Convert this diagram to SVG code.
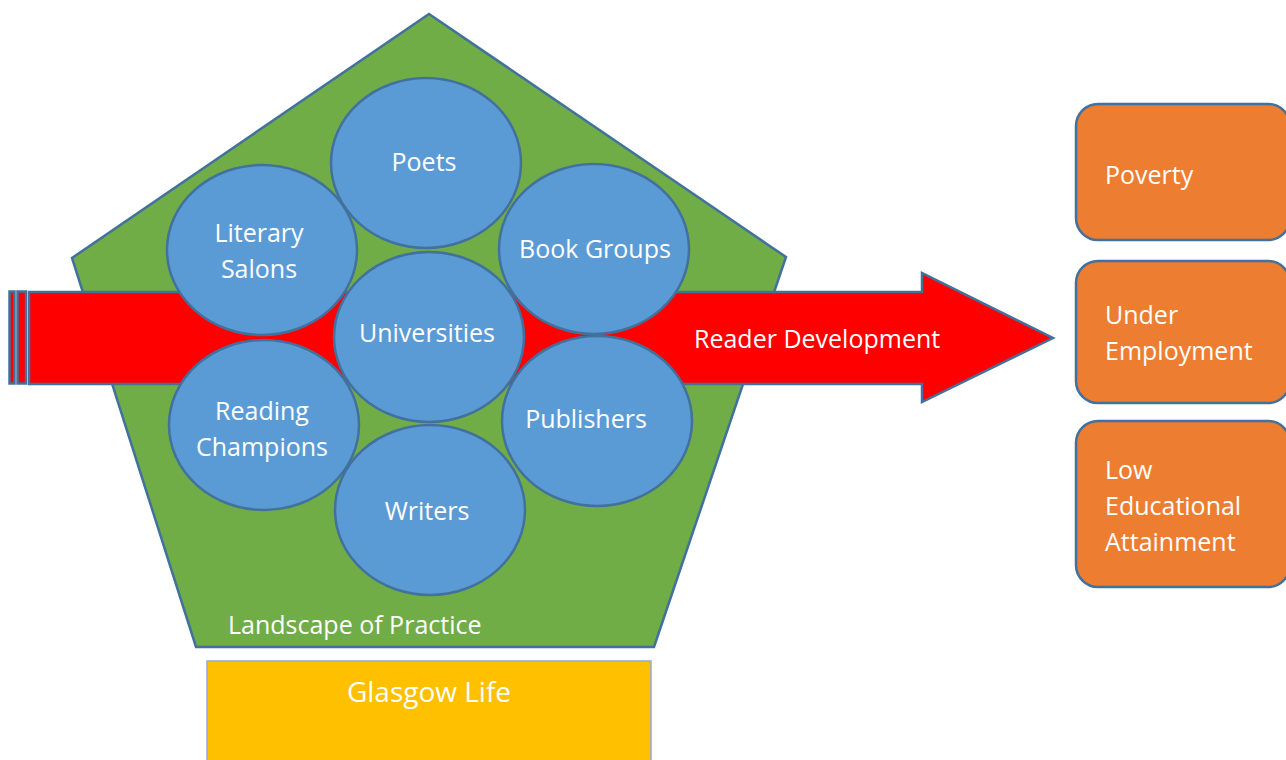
<svg xmlns="http://www.w3.org/2000/svg" width="1286" height="760" viewBox="0 0 1286 760">
<style>
text{font-family:"Open Sans","Liberation Sans",sans-serif;font-size:25px;fill:#fff}
.c{text-anchor:middle}
.circ{fill:#5B9BD5;stroke:#41719C;stroke-width:2.5}
.org{fill:#ED7D31;stroke:#41719C;stroke-width:2.5}
.ar{fill:#FF0000;stroke:#41719C;stroke-width:2.5}
</style>
<rect width="1286" height="760" fill="#fff"/>
<g id="landscape">
<polygon points="429,14 786,257 654,647 196,647 72,258" fill="#70AD47" stroke="#41719C" stroke-width="2.5"/>
<text x="228" y="634">Landscape of Practice</text>
</g>
<g id="glasgow-life">
<rect x="207" y="661" width="444" height="110" fill="#FFC000" stroke="#8FAADC" stroke-width="1.5"/>
<text class="c" x="429" y="702" style="font-size:28px">Glasgow Life</text>
</g>
<g id="connectors">
<g id="reader-development">
<rect x="9.5" y="291.5" width="5" height="92" class="ar"/>
<rect x="17.5" y="291.5" width="8.5" height="92" class="ar"/>
<polygon points="29,292 922,292 922,273 1053,338 922,402 922,384 29,384" class="ar"/>
<text x="694" y="348">Reader Development</text>
</g>
</g>
<g id="poets"><ellipse class="circ" cx="426" cy="163" rx="95" ry="85"/><text class="c" x="424" y="171">Poets</text></g>
<g id="literary-salons"><ellipse class="circ" cx="262" cy="250" rx="95" ry="85"/><text class="c" x="259" y="242">Literary</text><text class="c" x="259" y="278">Salons</text></g>
<g id="book-groups"><ellipse class="circ" cx="594" cy="249" rx="95" ry="85"/><text class="c" x="595" y="258">Book Groups</text></g>
<g id="universities"><ellipse class="circ" cx="429" cy="337" rx="95" ry="85"/><text class="c" x="427" y="342">Universities</text></g>
<g id="reading-champions"><ellipse class="circ" cx="264" cy="425" rx="95" ry="85"/><text class="c" x="262" y="420">Reading</text><text class="c" x="262" y="456">Champions</text></g>
<g id="publishers"><ellipse class="circ" cx="597" cy="421" rx="95" ry="85"/><text class="c" x="586" y="428">Publishers</text></g>
<g id="writers"><ellipse class="circ" cx="430" cy="510" rx="95" ry="85"/><text class="c" x="427" y="520">Writers</text></g>
<g id="poverty"><rect class="org" x="1076" y="104" width="214" height="136" rx="22"/><text x="1105" y="184">Poverty</text></g>
<g id="under-employment"><rect class="org" x="1076" y="261" width="214" height="142" rx="22"/><text x="1105" y="324">Under</text><text x="1105" y="360">Employment</text></g>
<g id="low-educational-attainment"><rect class="org" x="1076" y="421" width="214" height="166" rx="22"/><text x="1105" y="479">Low</text><text x="1105" y="515">Educational</text><text x="1105" y="551">Attainment</text></g>
</svg>
